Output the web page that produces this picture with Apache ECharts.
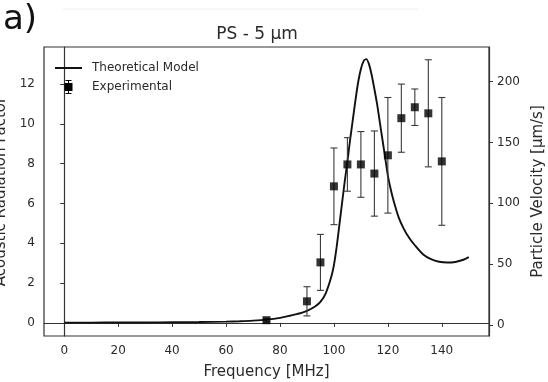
<!DOCTYPE html>
<html>
<head>
<meta charset="utf-8">
<script src="https://cdn.jsdelivr.net/npm/echarts@6/dist/echarts.min.js"></script>
<style>html,body{margin:0;padding:0;background:#fff}#c{width:548px;height:382px}</style>
</head>
<body>
<div id="c"></div>
<script>
// Theoretical model (left axis: Acoustic Radiation Factor)
const modelFreq = [0,10,20,30,40,50,60,65,70,75,80,84,88,90,93,95,97,99,100,101,102,103,104,105,106,107,108,109,110,111,112,113,114,115,116,117,118,119,120,121,122,124,126,128,130,133,136,139,142,145,148,150];
const modelFactor = [0.01,0.01,0.02,0.02,0.03,0.04,0.06,0.08,0.11,0.16,0.25,0.37,0.5,0.6,0.82,1.05,1.5,2.3,2.9,3.8,4.9,6.0,7.1,8.1,9.2,10.2,11.2,12.1,12.75,13.15,13.25,13.0,12.45,11.75,11.0,10.1,9.2,8.3,7.4,6.75,6.2,5.3,4.7,4.25,3.9,3.45,3.2,3.07,3.03,3.06,3.17,3.3];
// Experimental (right axis: Particle Velocity)
const expFreq = [75,90,95,100,105,110,115,120,125,130,135,140];
const expVel  = [4,19.5,51.5,114,132,132,124.5,139.5,170,179,174,134.5];
const expErr  = [1.5,12,23,31.5,22,27,35,47.5,28,15,44,52.5];
// Tick labels
const xTicks = [0,20,40,60,80,100,120,140];
const leftTicks = [0,2,4,6,8,10,12];
const rightTicks = [0,50,100,150,200];

const FONT = 'DejaVu Sans';
const chart = echarts.init(document.getElementById('c'), null, {renderer:'canvas'});
const axisCol = '#333';
const txtCol = '#2a2a2a';

const errData = expFreq.map((f,i)=>[f, expVel[i]-expErr[i], expVel[i]+expErr[i]]);
const ptData = expFreq.map((f,i)=>[f, expVel[i]]);
const lineData = modelFreq.map((f,i)=>[f, modelFactor[i]]);

chart.setOption({
  backgroundColor:'#fff',
  animation:false,
  textStyle:{fontFamily:FONT},
  title:{text:'PS - 5 µm', left:252, textAlign:'center', top:21,
    textStyle:{fontFamily:FONT,fontSize:17,fontWeight:'normal',color:txtCol}},
  graphic:[
    {type:'text', left:3, top:3, style:{text:'a)', font:'34px "DejaVu Sans"', fill:'#111'}},
    {type:'line', shape:{x1:63,y1:9,x2:418,y2:9}, style:{stroke:'#eeeeee',lineWidth:1}}
  ],
  grid:{left:44,right:59,top:47,bottom:46,containLabel:false,outerBoundsMode:'none',
    show:true,borderColor:axisCol,borderWidth:1.2,backgroundColor:'transparent'},
  legend:{orient:'vertical', left:50, top:57, itemGap:6, itemWidth:27, itemHeight:14,
    symbolKeepAspect:true,
    textStyle:{fontFamily:FONT,fontSize:12,color:txtCol,padding:[0,0,0,5]},
    data:[
      {name:'Theoretical Model', icon:'path://M0,0H27V2H0Z', itemStyle:{color:'#111'}},
      {name:'Experimental', icon:'path://M1,0H7V1H4.5V3H8V11H4.5V13H7V14H1V13H3.5V11H0V3H3.5V1H1Z', itemStyle:{color:'#000'}}
    ]},
  xAxis:{type:'value', min:-7.5, max:157.5,
    name:'Frequency [MHz]', nameLocation:'middle', nameGap:29,
    nameTextStyle:{fontFamily:FONT,fontSize:15,color:txtCol},
    axisLine:{show:true,lineStyle:{color:axisCol,width:1.2}},
    axisTick:{show:true,length:4,customValues:xTicks,lineStyle:{color:axisCol}},
    axisLabel:{customValues:xTicks,fontSize:12,color:txtCol,margin:9,fontFamily:FONT},
    splitLine:{show:false}},
  yAxis:[
    {type:'value', min:-0.66, max:13.86, position:'left',
      name:'Acoustic Radiation Factor', nameLocation:'middle', nameGap:32,
      nameTextStyle:{fontFamily:FONT,fontSize:15,color:txtCol},
      axisLine:{show:true,lineStyle:{color:axisCol,width:1.2}},
      axisTick:{show:true,length:4,customValues:leftTicks,lineStyle:{color:axisCol}},
      axisLabel:{customValues:leftTicks,fontSize:12,color:txtCol,margin:9,fontFamily:FONT},
      splitLine:{show:false}},
    {type:'value', min:-9, max:228.5, position:'right',
      name:'Particle Velocity [µm/s]', nameLocation:'middle', nameGap:40,
      nameTextStyle:{fontFamily:FONT,fontSize:15,color:txtCol},
      axisLine:{show:true,lineStyle:{color:axisCol,width:1.2}},
      axisTick:{show:true,length:4,customValues:rightTicks,lineStyle:{color:axisCol}},
      axisLabel:{customValues:rightTicks,fontSize:12,color:txtCol,margin:8,fontFamily:FONT},
      splitLine:{show:false}}
  ],
  series:[
    {name:'Theoretical Model', type:'line', yAxisIndex:0, data:lineData, symbol:'none', smooth:0.25,
      lineStyle:{color:'#111',width:1.9}, itemStyle:{color:'#111'}, z:3},
    {name:'Experimental', type:'custom', yAxisIndex:1, data:errData, z:4,
      itemStyle:{color:'#000'},
      renderItem:function(params, api){
        const x = api.value(0), lo = api.value(1), hi = api.value(2);
        const pLo = api.coord([x, lo]), pHi = api.coord([x, hi]);
        const hw = 3.5;
        const st = {stroke:'#3a3a3a', lineWidth:1.1, fill:null};
        return {type:'group', children:[
          {type:'line', shape:{x1:pLo[0],y1:pLo[1],x2:pHi[0],y2:pHi[1]}, style:st},
          {type:'line', shape:{x1:pLo[0]-hw,y1:pLo[1],x2:pLo[0]+hw,y2:pLo[1]}, style:st},
          {type:'line', shape:{x1:pHi[0]-hw,y1:pHi[1],x2:pHi[0]+hw,y2:pHi[1]}, style:st}
        ]};
      }},
    {name:'Experimental', type:'scatter', yAxisIndex:1, data:ptData, symbol:'rect', symbolSize:8,
      itemStyle:{color:'#000'}, z:5}
  ]
});
</script>
</body>
</html>
